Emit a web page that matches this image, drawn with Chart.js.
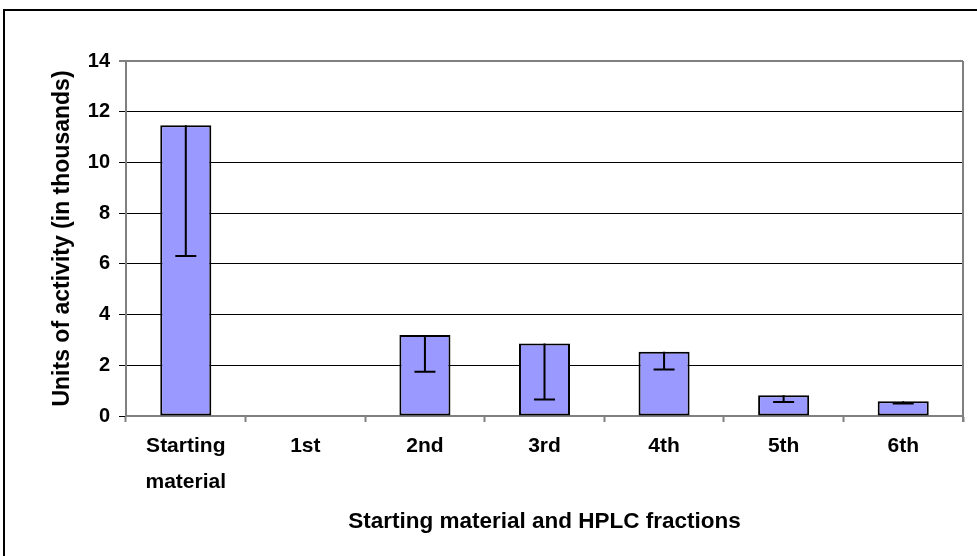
<!DOCTYPE html>
<html>
<head>
<meta charset="utf-8">
<script src="https://cdn.jsdelivr.net/npm/chart.js@4"></script>
<style>
  html, body { margin: 0; padding: 0; background: #fff; }
  canvas { display: block; }
</style>
</head>
<body>
<canvas id="c" width="977" height="556"></canvas>
<script>
// ---- data ----
const categories = [["Starting", "material"], "1st", "2nd", "3rd", "4th", "5th", "6th"];
const activity   = [11.47, 0.02, 3.19, 2.86, 2.53, 0.82, 0.58];
const errorMinus = [5.16, 0, 1.44, 2.21, 0.70, 0.27, 0.09];
const yTicks = [0, 2, 4, 6, 8, 10, 12, 14];
const yTitle = "Units of activity (in thousands)";
const xTitle = "Starting material and HPLC fractions";

const FONT = "'Liberation Sans', Arial, Helvetica, sans-serif";

const frame = {
  id: 'frame',
  beforeDraw(chart) {
    const ctx = chart.ctx;
    ctx.save();
    ctx.fillStyle = '#fff';
    ctx.fillRect(0, 0, chart.width, chart.height);
    ctx.fillStyle = '#000';
    ctx.fillRect(3, 9, chart.width, 2);
    ctx.fillRect(3, 9, 2, chart.height);
    ctx.restore();
  },
  afterDraw(chart) {
    const a = chart.chartArea, ctx = chart.ctx;
    ctx.save();
    ctx.strokeStyle = '#808080';
    ctx.lineWidth = 2;
    ctx.beginPath();
    ctx.moveTo(a.right, a.top);
    ctx.lineTo(a.right, a.bottom + 6);
    ctx.stroke();
    ctx.restore();
  }
};

const errorBars = {
  id: 'errorBars',
  afterDatasetsDraw(chart) {
    const ctx = chart.ctx;
    const ys = chart.scales.y;
    const meta = chart.getDatasetMeta(0);
    ctx.save();
    ctx.strokeStyle = '#000';
    ctx.lineWidth = 2;
    meta.data.forEach((bar, i) => {
      if (!errorMinus[i]) return;
      const yTop = ys.getPixelForValue(activity[i]);
      const yLow = ys.getPixelForValue(activity[i] - errorMinus[i]);
      ctx.beginPath();
      ctx.moveTo(bar.x, yTop);
      ctx.lineTo(bar.x, yLow);
      ctx.moveTo(bar.x - 10.5, yLow);
      ctx.lineTo(bar.x + 10.5, yLow);
      ctx.stroke();
    });
    ctx.restore();
  }
};

new Chart(document.getElementById('c'), {
  type: 'bar',
  data: {
    labels: categories,
    datasets: [{
      data: activity,
      backgroundColor: '#9999FF',
      borderColor: '#000',
      borderWidth: 2,
      borderSkipped: false,
      categoryPercentage: 1,
      barPercentage: 0.427
    }]
  },
  options: {
    responsive: false,
    animation: false,
    devicePixelRatio: 1,
    layout: { padding: { top: 61, right: 14, left: 0, bottom: 0 } },
    plugins: { legend: { display: false }, tooltip: { enabled: false } },
    scales: {
      x: {
        offset: true,
        grid: {
          drawOnChartArea: false,
          drawTicks: true,
          tickLength: 6,
          tickColor: '#808080',
          tickWidth: 2,
          offset: true
        },
        border: { color: '#808080', width: 2 },
        ticks: {
          color: '#000',
          padding: 7,
          maxRotation: 0,
          autoSkip: false,
          font: { family: FONT, size: 21, weight: 'bold', lineHeight: 1.68 }
        },
        title: {
          display: true,
          text: xTitle,
          color: '#000',
          font: { family: FONT, size: 22.5, weight: 'bold' },
          padding: { top: 0, bottom: 21 }
        },
        afterFit(scale) { scale.height = 140; }
      },
      y: {
        min: 0,
        max: 14,
        afterBuildTicks(scale) { scale.ticks = yTicks.map(v => ({ value: v })); },
        grid: {
          color: c => (c.tick && c.tick.value === 14) ? '#808080' : '#000',
          lineWidth: c => (c.tick && c.tick.value === 14) ? 2 : 1,
          tickColor: c => (c.tick && c.tick.value === 14) ? '#808080' : '#000',
          tickLength: 7
        },
        border: { color: '#808080', width: 2 },
        ticks: {
          color: '#000',
          padding: 9,
          font: { family: FONT, size: 20, weight: 'bold' }
        },
        title: {
          display: true,
          text: yTitle,
          color: '#000',
          font: { family: FONT, size: 23, weight: 'bold' },
          padding: { top: 48.5, bottom: 0 }
        },
        afterFit(scale) { scale.width = 126; }
      }
    }
  },
  plugins: [frame, errorBars]
});
</script>
</body>
</html>
